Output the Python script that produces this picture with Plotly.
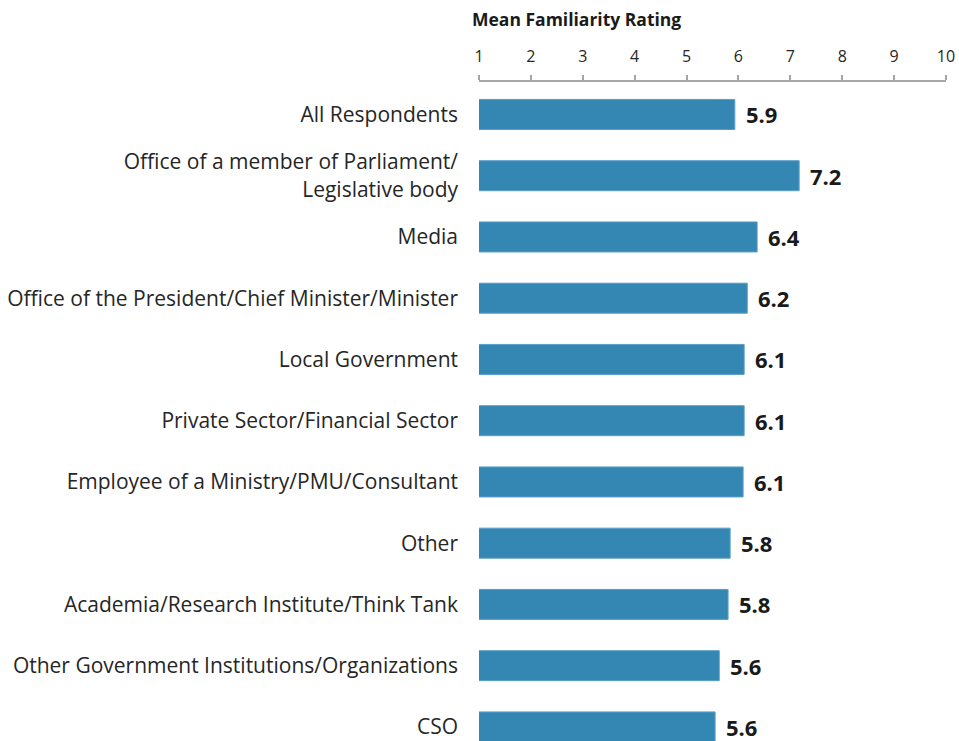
import plotly.graph_objects as go

categories = [
    "All Respondents",
    "Office of a member of Parliament/<br>Legislative body",
    "Media",
    "Office of the President/Chief Minister/Minister",
    "Local Government",
    "Private Sector/Financial Sector",
    "Employee of a Ministry/PMU/Consultant",
    "Other",
    "Academia/Research Institute/Think Tank",
    "Other Government Institutions/Organizations",
    "CSO",
]
values = [5.93, 7.17, 6.36, 6.17, 6.11, 6.11, 6.09, 5.84, 5.80, 5.63, 5.55]
labels = ["5.9", "7.2", "6.4", "6.2", "6.1", "6.1", "6.1", "5.8", "5.8", "5.6", "5.6"]
ticks = list(range(1, 11))

FONT = "Open Sans"
fig = go.Figure()
fig.add_trace(go.Bar(
    y=categories, x=values, orientation="h",
    marker=dict(color="#3487b3", line=dict(color="#5a9fc6", width=1)),
    width=0.49, showlegend=False, hoverinfo="x+y",
))

for c, v, t in zip(categories, values, labels):
    fig.add_annotation(x=v, y=c, xref="x", yref="y", text="<b>%s</b>" % t,
                       showarrow=False, xanchor="left", yanchor="middle",
                       xshift=9, font=dict(family=FONT, size=22, color="#1a1a1a"))

fig.add_annotation(x=1, y=1, xref="x", yref="paper", text="<b>Mean Familiarity Rating</b>",
                   showarrow=False, xanchor="left", yanchor="bottom", xshift=-9, yshift=49,
                   font=dict(family=FONT, size=17.5, color="#1a1a1a"))

fig.update_layout(
    width=959, height=741,
    margin=dict(l=479, r=13, t=82, b=0, autoexpand=False),
    plot_bgcolor="white", paper_bgcolor="white",
    font=dict(family=FONT, color="#262626"),
    xaxis=dict(side="top", range=[1, 10], tickvals=ticks, ticktext=[str(t) for t in ticks],
               showgrid=False, zeroline=False, showline=True, linecolor="#a6a6a6", linewidth=1.5,
               ticks="outside", ticklen=5, tickcolor="#a6a6a6", tickwidth=1.5,
               tickfont=dict(family=FONT, size=16, color="#262626"), ticklabelstandoff=7,
               fixedrange=True),
    yaxis=dict(categoryorder="array", categoryarray=categories, range=[10.23, -0.53],
               showgrid=False, zeroline=False, showline=False, ticks="",
               tickfont=dict(family=FONT, size=21, color="#262626"), ticklabelstandoff=20,
               automargin=False),
)

fig.write_html("out.html", config={"displayModeBar": False},
               post_script="document.body.style.margin='0';document.body.style.overflow='hidden';")
